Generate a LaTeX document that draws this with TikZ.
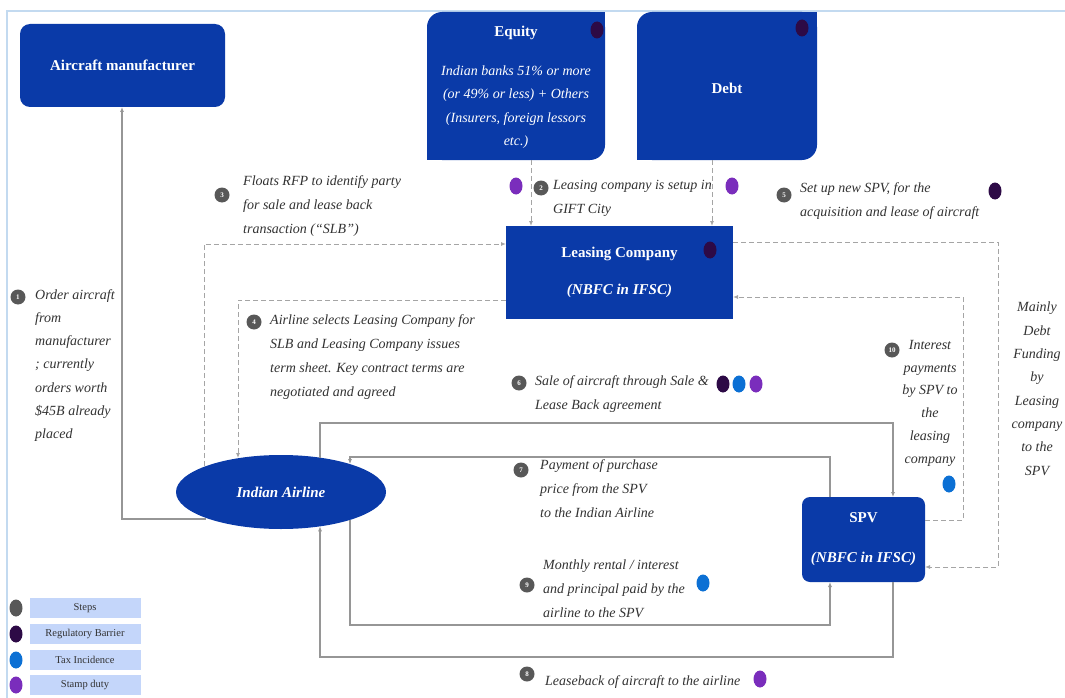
\documentclass[tikz,border=0pt]{standalone}
\usepackage{fontspec}
\setmainfont{Liberation Serif}
\usetikzlibrary{arrows.meta,shapes.geometric,calc}
\definecolor{boxblue}{RGB}{10,58,168}
\definecolor{darkdot}{RGB}{45,10,70}
\definecolor{bluedot}{RGB}{12,112,212}
\definecolor{purpledot}{RGB}{122,45,188}
\definecolor{stepgray}{RGB}{88,88,88}
\definecolor{linegray}{RGB}{150,150,150}
\definecolor{dashgray}{RGB}{165,165,165}
\definecolor{labelgray}{RGB}{50,50,50}
\definecolor{legendblue}{RGB}{196,214,250}
\definecolor{borderblue}{RGB}{195,218,240}
\begin{document}
\begin{tikzpicture}[x=1pt,y=-1pt,
  box/.style={fill=boxblue, text=white, inner sep=0pt, outer sep=0pt, font=\fontsize{15}{18}\selectfont\bfseries, align=center},
  lbl/.style={anchor=north west, inner sep=0pt, text=labelgray, font=\fontsize{14}{24}\selectfont\itshape, align=left},
  clbl/.style={anchor=north, inner sep=0pt, text=labelgray, font=\fontsize{14}{23.3}\selectfont\itshape, align=center},
  stepc/.style={circle, fill=stepgray, text=white, minimum size=15pt, inner sep=0pt, font=\fontsize{7}{7}\selectfont\bfseries},
  mkdot/.style={ellipse, fill=#1, minimum width=13pt, minimum height=17pt, inner sep=0pt},
  legbar/.style={fill=legendblue, minimum width=111pt, minimum height=20pt, inner sep=0pt, text=labelgray, font=\fontsize{10.5}{11}\selectfont},
  arr/.style={draw=linegray, line width=1.1pt, -{Latex[length=5pt,width=4pt]}},
  dasharr/.style={draw=dashgray, line width=1pt, dash pattern=on 5pt off 3pt, -{Latex[length=5pt,width=4pt]}}
]
\useasboundingbox (0,0) rectangle (1065,698);
\fill[white] (0,0) rectangle (1065,698);
\draw[borderblue, line width=1.5pt] (7,698) -- (7,11) -- (1065,11);

% boxes
\node[box, rounded corners=10pt, minimum width=205pt, minimum height=83pt] (manu) at (122.5,65.5) {Aircraft manufacturer};
\node[box, rounded corners=15pt, minimum width=178pt, minimum height=148pt] (eq) at (516,86) {};
\fill[boxblue] (eq.north east) rectangle ++(-16,16);
\fill[boxblue] (eq.south west) rectangle ++(16,-16);
\node[box, rounded corners=15pt, minimum width=180pt, minimum height=148pt] (debt) at (727,86) {};
\fill[boxblue] (debt.north east) rectangle ++(-16,16);
\fill[boxblue] (debt.south west) rectangle ++(16,-16);
\node[box] (eqt) at (516,33) {Equity};
\node[box, font=\fontsize{14}{23.5}\selectfont\itshape] (eqd) at (516,107) {Indian banks 51\% or more\\(or 49\% or less) + Others\\(Insurers, foreign lessors\\etc.)};
\node[box] (debtt) at (727,88) {Debt};

\node[box, minimum width=227pt, minimum height=93pt] (lease) at (619.5,272.5) {Leasing Company\\[19pt]{\itshape (NBFC in IFSC)}};
\node[box, rounded corners=8pt, minimum width=123pt, minimum height=85pt] (spv) at (863.5,539.5) {SPV\\[22pt]{\itshape (NBFC in IFSC)}};
\node[box, ellipse, minimum width=210pt, minimum height=74pt, font=\fontsize{15}{18}\selectfont\bfseries\itshape] (air) at (281,492) {Indian Airline};

% corner coordinates
\coordinate (m1) at (122,519);
\coordinate (c3) at (204,244);
\coordinate (c4) at (238,300);
\coordinate (e1) at (531,160);
\coordinate (e2) at (712,160);
\coordinate (r1) at (998,242);
\coordinate (r2) at (998,567);
\coordinate (q1) at (963,520);
\coordinate (q2) at (963,297);
\coordinate (o1) at (320,423);
\coordinate (o2) at (893,423);
\coordinate (i1) at (830,457);
\coordinate (i2) at (350,457);
\coordinate (b1) at (350,625);
\coordinate (b2) at (830,625);
\coordinate (d1) at (893,657);
\coordinate (d2) at (320,657);

% connectors
\draw[arr] (air.199.2 |- m1) -- (m1) -- (manu.south -| m1);
\draw[dasharr] (air.161.9 -| c3) -- (c3) -- (lease.west |- c3);
\draw[dasharr] (lease.west |- c4) -- (c4) -- (air.141.9 -| c4);
\draw[dasharr] (eq.south -| e1) -- (lease.north -| e1);
\draw[dasharr] (debt.south -| e2) -- (lease.north -| e2);
\draw[dasharr] (lease.east |- r1) -- (r1) -- (r2) -- (spv.east |- r2);
\draw[dasharr] (spv.east |- q1) -- (q1) -- (q2) -- (lease.east |- q2);
\draw[arr] (air.41.4 -| o1) -- (o1) -- (o2) -- (spv.north -| o2);
\draw[arr] (spv.north -| i1) -- (i1) -- (i2) -- (air.22 -| i2);
\draw[arr] (air.-22 -| b1) -- (b1) -- (b2) -- (spv.south -| b2);
\draw[arr] (spv.south -| d1) -- (d1) -- (d2) -- (air.-41.4 -| d2);

% step markers
\node[stepc] (s1) at (18,297) {1};
\node[stepc] (s2) at (541,188) {2};
\node[stepc] (s3) at (222,195) {3};
\node[stepc] (s4) at (254,322) {4};
\node[stepc] (s5) at (784,195) {5};
\node[stepc] (s6) at (519,383) {6};
\node[stepc] (s7) at (521,470) {7};
\node[stepc] (s8) at (527,674) {8};
\node[stepc] (s9) at (527,585) {9};
\node[stepc] (s10) at (892,350) {10};

% labels
\node[lbl, font=\fontsize{14}{23.3}\selectfont\itshape] (l1) at (35,289) {Order aircraft\\from\\manufacturer\\; currently\\orders worth\\\$45B already\\placed};
\node[lbl] (l3) at (243,175) {Floats RFP to identify party\\for sale and lease back\\transaction (“SLB”)};
\node[lbl] (l2) at (553,180) {Leasing company is setup in\\GIFT City};
\node[lbl] (l5) at (800,182) {Set up new SPV, for the\\acquisition and lease of aircraft};
\node[lbl] (l4) at (270,314) {Airline selects Leasing Company for\\SLB and Leasing Company issues\\term sheet. Key contract terms are\\negotiated and agreed};
\node[lbl] (l6) at (535,375) {Sale of aircraft through Sale \&\\Lease Back agreement};
\node[lbl] (l7) at (540,459) {Payment of purchase\\price from the SPV\\to the Indian Airline};
\node[lbl] (l9) at (543,560) {Monthly rental / interest\\and principal paid by the\\airline to the SPV};
\node[lbl] (l8) at (545,675) {Leaseback of aircraft to the airline};
\node[clbl, font=\fontsize{14}{22.8}\selectfont\itshape] (l10) at (930,340) {Interest\\payments\\by SPV to\\the\\leasing\\company};
\node[clbl] (lm) at (1037,302) {Mainly\\Debt\\Funding\\by\\Leasing\\company\\to the\\SPV};

% category dots
\node[mkdot=darkdot] (dq1) at (597,30) {};
\node[mkdot=darkdot] (dq2) at (802,28) {};
\node[mkdot=purpledot] (dq3) at (516,186) {};
\node[mkdot=purpledot] (dq4) at (732,186) {};
\node[mkdot=darkdot] (dq5) at (710,250) {};
\node[mkdot=darkdot] (dq6) at (995,191) {};
\node[mkdot=darkdot] (dq7) at (723,384) {};
\node[mkdot=bluedot] (dq8) at (739,384) {};
\node[mkdot=purpledot] (dq9) at (756,384) {};
\node[mkdot=bluedot] (dq10) at (949,484) {};
\node[mkdot=bluedot] (dq11) at (703,583) {};
\node[mkdot=purpledot] (dq12) at (760,679) {};

% legend
\node[mkdot=stepgray] (k1) at (16,608) {};
\node[mkdot=darkdot] (k2) at (16,634) {};
\node[mkdot=bluedot] (k3) at (16,660) {};
\node[mkdot=purpledot] (k4) at (16,685) {};
\node[legbar] (t1) at (85,608) {Steps};
\node[legbar] (t2) at (85,634) {Regulatory Barrier};
\node[legbar] (t3) at (85,660) {Tax Incidence};
\node[legbar] (t4) at (85,685) {Stamp duty};
\end{tikzpicture}
\end{document}
